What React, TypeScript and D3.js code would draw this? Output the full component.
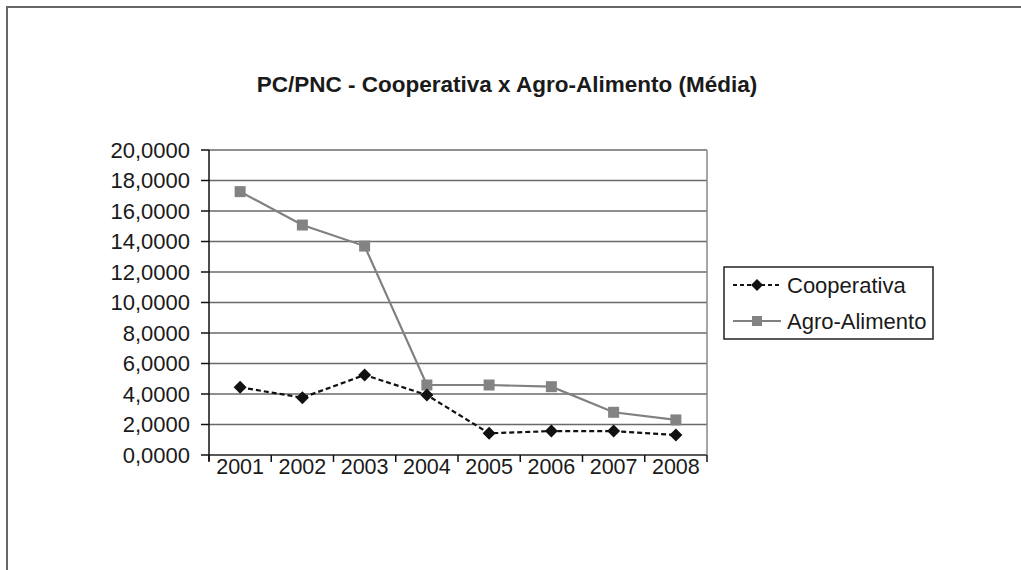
import React from "react";
import * as d3 from "d3";

const years = ["2001", "2002", "2003", "2004", "2005", "2006", "2007", "2008"];
const cooperativa = [4.44, 3.76, 5.25, 3.93, 1.42, 1.57, 1.57, 1.31];
const agroAlimento = [17.27, 15.08, 13.7, 4.59, 4.59, 4.48, 2.8, 2.3];
const yTicks = [0, 2, 4, 6, 8, 10, 12, 14, 16, 18, 20];
const title = "PC/PNC - Cooperativa x Agro-Alimento (Média)";
const seriesNames = ["Cooperativa", "Agro-Alimento"];

const W = 1021;
const H = 570;
const FONT = "'Liberation Sans', Arial, sans-serif";

export default function App() {
  const left = 209, right = 707, top = 150, bottom = 455;
  const x = d3.scaleBand<string>().domain(years).range([left, right]);
  const y = d3.scaleLinear().domain([0, 20]).range([bottom, top]);
  const cx = (yr: string) => (x(yr) as number) + x.bandwidth() / 2;

  const line = d3
    .line<number>()
    .x((_, i) => cx(years[i]))
    .y((v) => y(v));

  const fmt = (v: number) => v.toFixed(4).replace(".", ",");
  const diamond = (px: number, py: number, r = 6.5) =>
    `M${px},${py - r}L${px + r},${py}L${px},${py + r}L${px - r},${py}Z`;

  const boundaries = years.map((yr) => x(yr) as number).concat([right]);

  const legX = 724, legY = 267, legW = 209, legH = 72;
  const legRows = [legY + 18, legY + 54];

  return (
    <svg
      width={W}
      height={H}
      style={{ position: "absolute", left: 0, top: 0, background: "#fff" }}
      fontFamily={FONT}
    >
      <rect x={0} y={0} width={W} height={H} fill="#fff" />
      <rect x={7} y={7} width={1200} height={800} fill="none" stroke="#666" strokeWidth={2} />

      <text x={507} y={92} textAnchor="middle" fontSize={22.5} fontWeight="bold" fill="#1a1a1a">
        {title}
      </text>

      {/* gridlines */}
      {yTicks.map((t) => (
        <line key={"g" + t} x1={left} x2={right} y1={y(t)} y2={y(t)} stroke={t === 0 ? "#222" : "#6a6a6a"} strokeWidth={1.5} />
      ))}
      <line x1={right} x2={right} y1={top} y2={bottom} stroke="#888" strokeWidth={1.5} />

      {/* y axis */}
      <line x1={left} x2={left} y1={top} y2={bottom + 6} stroke="#111" strokeWidth={1.5} />
      {yTicks.map((t) => (
        <g key={"yt" + t}>
          <line x1={left - 8} x2={left} y1={y(t)} y2={y(t)} stroke="#111" strokeWidth={1.5} />
          <text x={190} y={y(t)} dy="0.36em" textAnchor="end" fontSize={22} fill="#1a1a1a">
            {fmt(t)}
          </text>
        </g>
      ))}

      {/* x axis */}
      {boundaries.map((b, i) => (
        <line key={"xt" + i} x1={b} x2={b} y1={bottom} y2={bottom + 7} stroke="#111" strokeWidth={1.5} />
      ))}
      {years.map((yr) => (
        <text key={"xl" + yr} x={cx(yr)} y={474} textAnchor="middle" fontSize={21.5} fill="#1a1a1a">
          {yr}
        </text>
      ))}

      {/* Agro-Alimento */}
      <path d={line(agroAlimento) || ""} fill="none" stroke="#808080" strokeWidth={2.2} />
      {agroAlimento.map((v, i) => (
        <rect key={"a" + i} x={cx(years[i]) - 5.5} y={y(v) - 5.5} width={11} height={11} fill="#838383" />
      ))}

      {/* Cooperativa */}
      <path d={line(cooperativa) || ""} fill="none" stroke="#111" strokeWidth={2.2} strokeDasharray="5,3" />
      {cooperativa.map((v, i) => (
        <path key={"c" + i} d={diamond(cx(years[i]), y(v))} fill="#111" />
      ))}

      {/* legend */}
      <rect x={legX} y={legY} width={legW} height={legH} fill="#fff" stroke="#222" strokeWidth={1.5} />
      <line x1={733} x2={781} y1={legRows[0]} y2={legRows[0]} stroke="#111" strokeWidth={2} strokeDasharray="4,3" />
      <path d={diamond(757, legRows[0], 6)} fill="#111" />
      <text x={787} y={legRows[0]} dy="0.36em" fontSize={22} fill="#1a1a1a">
        {seriesNames[0]}
      </text>
      <line x1={733} x2={781} y1={legRows[1]} y2={legRows[1]} stroke="#808080" strokeWidth={2.2} />
      <rect x={752} y={legRows[1] - 5} width={10} height={10} fill="#838383" />
      <text x={787} y={legRows[1]} dy="0.36em" fontSize={22} fill="#1a1a1a">
        {seriesNames[1]}
      </text>
    </svg>
  );
}
